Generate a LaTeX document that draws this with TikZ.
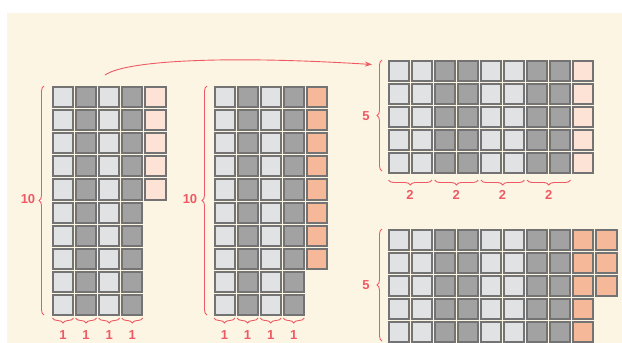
\documentclass[tikz,border=0pt]{standalone}
\usepackage{fontspec}
\setsansfont{Liberation Sans}
\usetikzlibrary{decorations.pathreplacing,arrows.meta}
\definecolor{bgc}{HTML}{FDF5E3}
\definecolor{lightc}{HTML}{E1E2E4}
\definecolor{darkc}{HTML}{A2A2A2}
\definecolor{pinkc}{HTML}{FDE3D5}
\definecolor{salmc}{HTML}{F5B898}
\definecolor{edgec}{HTML}{737373}
\definecolor{redc}{HTML}{EE5A64}
\tikzset{
  cellbox/.style={draw=edgec, line width=2pt},
  brc/.style={draw=redc, line width=0.9pt, decorate, decoration={brace, amplitude=5pt}},
  lbl/.style={text=redc, font=\sffamily\bfseries\fontsize{13}{13}\selectfont, inner sep=0pt},
  arr/.style={draw=redc, line width=0.9pt, -{Stealth[length=7pt,width=5pt]}}
}
% #1 origin x, #2 origin y, #3 column, #4 row, #5 fill colour
\newcommand\gcell[5]{%
  \filldraw[cellbox, fill=#5] ({#1+#3*23.1+1.5},{#2+#4*23.1+1.5}) rectangle ++(20.1,20.1);}
\begin{document}
\begin{tikzpicture}[x=1pt,y=-1pt]
\useasboundingbox (0,0) rectangle (622,343);
\fill[white] (0,0) rectangle (622,343);
\fill[bgc] (7,13) rectangle (622,343);

% ---------- grid 1 ----------
\foreach \r in {0,...,9}{
  \foreach \c in {0,2}{\gcell{51.5}{85.5}{\c}{\r}{lightc}}
  \foreach \c in {1,3}{\gcell{51.5}{85.5}{\c}{\r}{darkc}}
}
\foreach \r in {0,...,4}{\gcell{51.5}{85.5}{4}{\r}{pinkc}}

% ---------- grid 2 ----------
\foreach \r in {0,...,9}{
  \foreach \c in {0,2}{\gcell{213}{85.5}{\c}{\r}{lightc}}
  \foreach \c in {1,3}{\gcell{213}{85.5}{\c}{\r}{darkc}}
}
\foreach \r in {0,...,7}{\gcell{213}{85.5}{4}{\r}{salmc}}

% ---------- grid 3 ----------
\foreach \r in {0,...,4}{
  \foreach \c in {0,1,4,5}{\gcell{387}{59}{\c}{\r}{lightc}}
  \foreach \c in {2,3,6,7}{\gcell{387}{59}{\c}{\r}{darkc}}
  \gcell{387}{59}{8}{\r}{pinkc}
}

% ---------- grid 4 ----------
\foreach \r in {0,...,4}{
  \foreach \c in {0,1,4,5}{\gcell{387}{228}{\c}{\r}{lightc}}
  \foreach \c in {2,3,6,7}{\gcell{387}{228}{\c}{\r}{darkc}}
  \gcell{387}{228}{8}{\r}{salmc}
}
\foreach \r in {0,...,2}{\gcell{387}{228}{9}{\r}{salmc}}

% ---------- braces ----------
\draw[brc] (44,315) -- (44,86);
\node[lbl] (l10a) at (28,199) {10};
\draw[brc] (207,315) -- (207,86);
\node[lbl] (l10b) at (190,199) {10};
\draw[brc] (382,171) -- (382,60);
\node[lbl] (l5a) at (366,116) {5};
\draw[brc] (382,341) -- (382,229);
\node[lbl] (l5b) at (366,285) {5};

\foreach \c [count=\i] in {0,1,2,3}{
  \draw[brc] ({51.5+\c*23.1+22},318) -- ({51.5+\c*23.1+1},318);
  \node[lbl] (one\i) at ({51.5+\c*23.1+11.5},335) {1};
  \draw[brc] ({213+\c*23.1+22},318) -- ({213+\c*23.1+1},318);
  \node[lbl] (oneb\i) at ({213+\c*23.1+11.5},335) {1};
}
\foreach \c [count=\i] in {0,2,4,6}{
  \draw[brc] ({387+\c*23.1+45},180) -- ({387+\c*23.1+1.5},180);
  \node[lbl] (two\i) at ({387+\c*23.1+23.1},195) {2};
}

% ---------- arrow ----------
\coordinate (as) at (105,75);
\coordinate (ae) at (372,64.5);
\draw[arr] (as) .. controls (125,61) and (220,55) .. (ae);
\end{tikzpicture}
\end{document}
